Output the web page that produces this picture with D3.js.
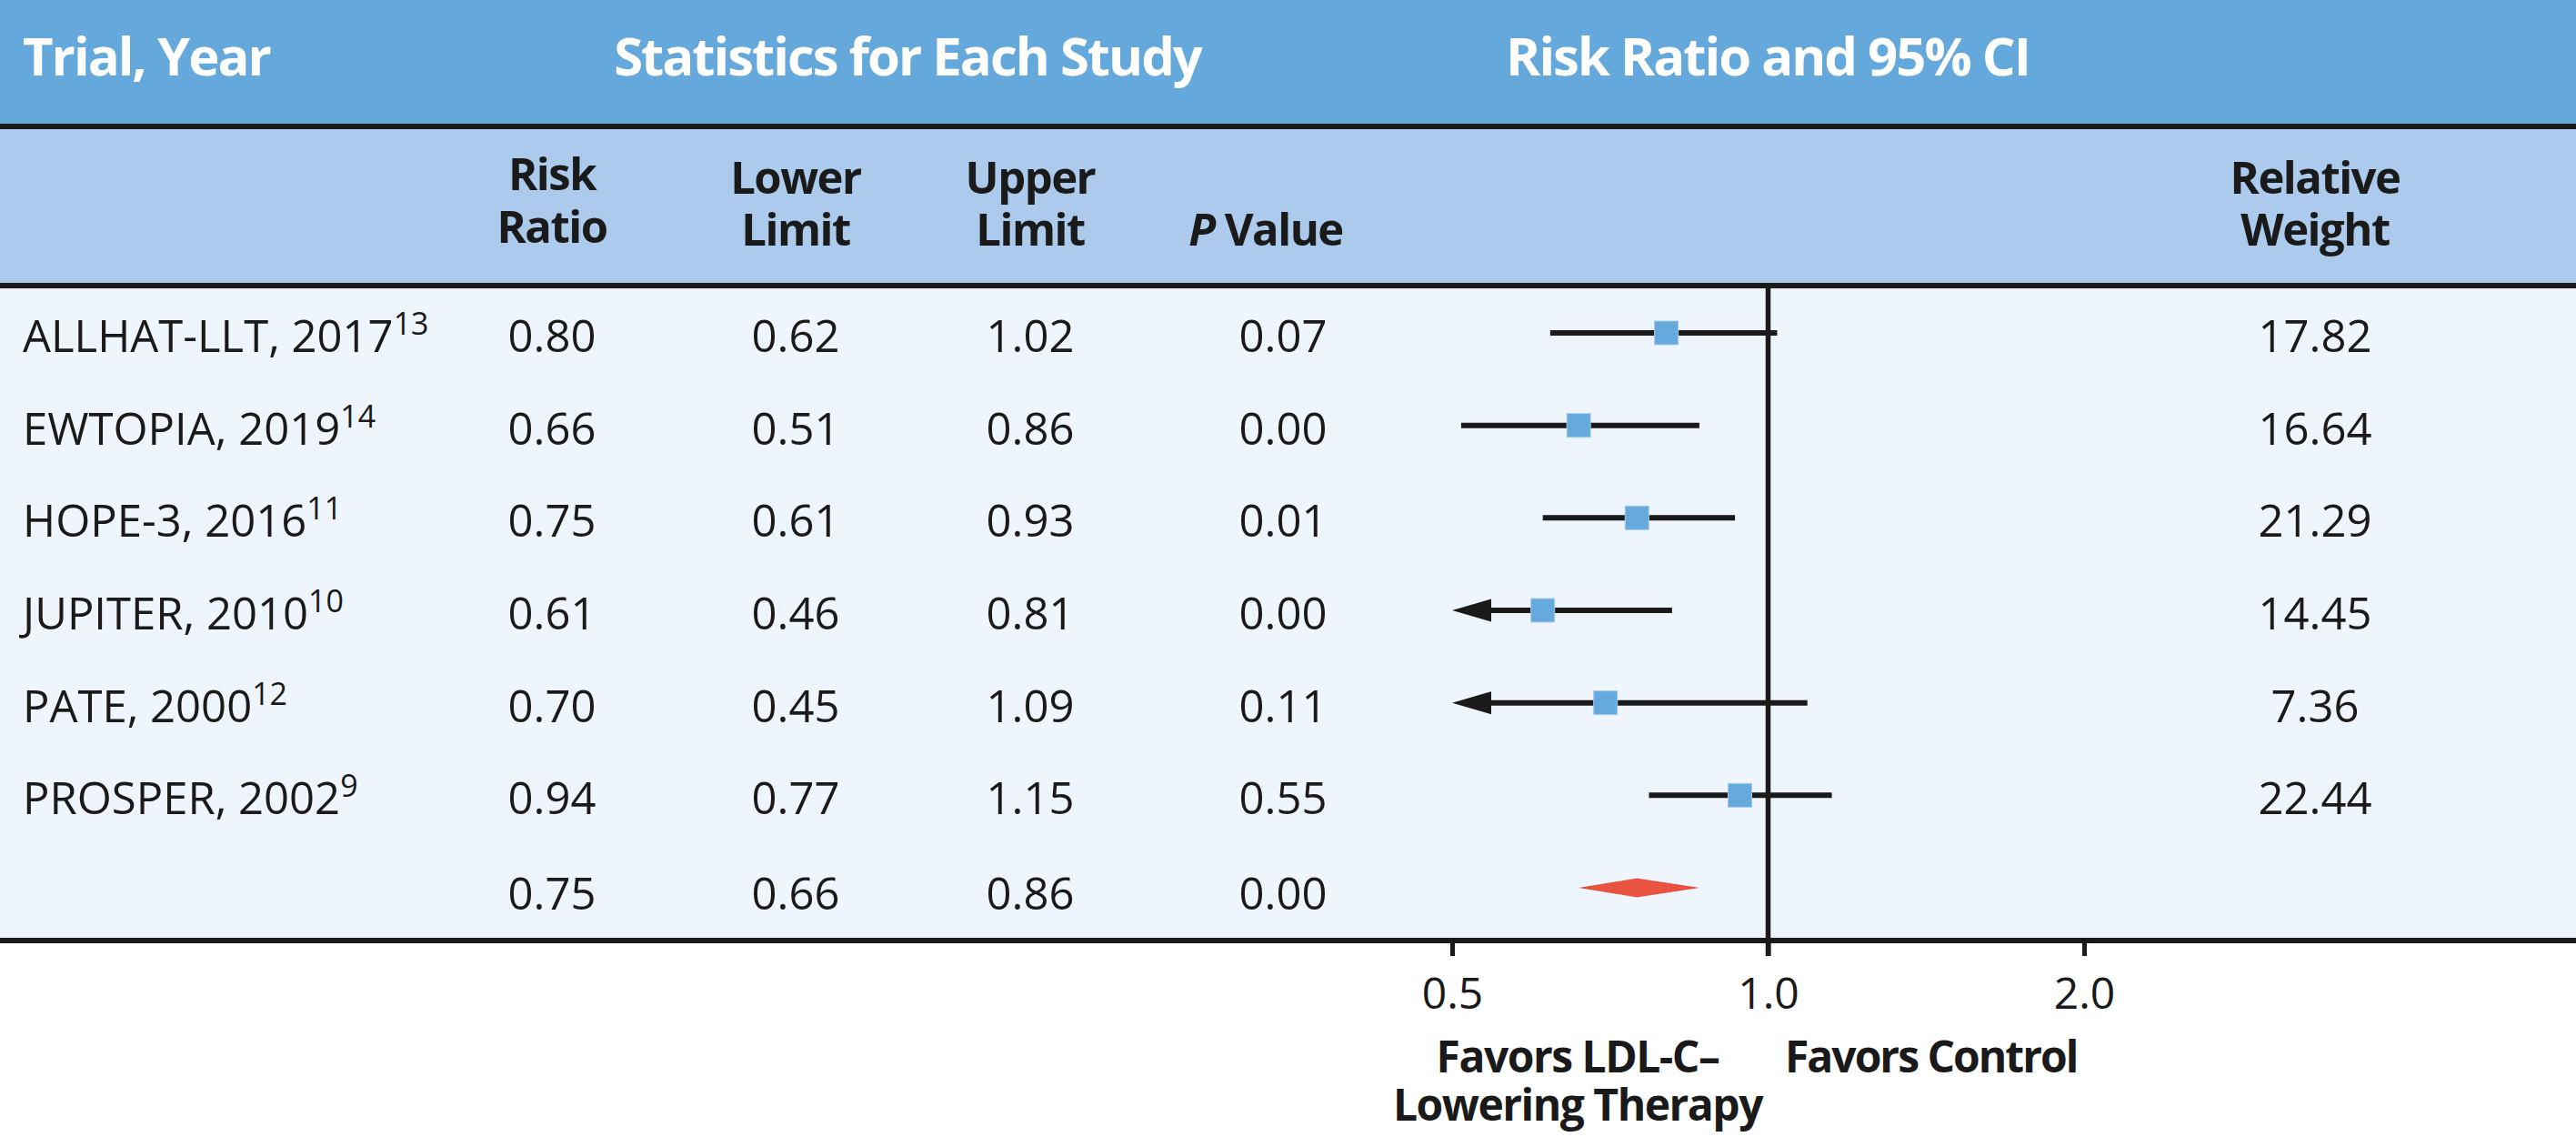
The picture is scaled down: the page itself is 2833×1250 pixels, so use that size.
<!DOCTYPE html>
<html>
<head>
<meta charset="utf-8">
<script src="https://cdn.jsdelivr.net/npm/d3@7"></script>
<style>
  body { margin: 0; background: #fff; }
  svg { display: block; font-family: "Open Sans", sans-serif; }
</style>
</head>
<body>
<svg id="chart"></svg>
<script>
// study rows
const trials = ["ALLHAT-LLT, 2017", "EWTOPIA, 2019", "HOPE-3, 2016", "JUPITER, 2010", "PATE, 2000", "PROSPER, 2002"];
const refs = ["13", "14", "11", "10", "12", "9"];
const riskRatio = [0.80, 0.66, 0.75, 0.61, 0.70, 0.94];
const lowerLimit = [0.62, 0.51, 0.61, 0.46, 0.45, 0.77];
const upperLimit = [1.02, 0.86, 0.93, 0.81, 1.09, 1.15];
const pValue = ["0.07", "0.00", "0.01", "0.00", "0.11", "0.55"];
const weights = ["17.82", "16.64", "21.29", "14.45", "7.36", "22.44"];

// pooled estimate
const pooled = { rr: 0.75, lo: 0.66, hi: 0.86, p: "0.00" };

const tickValues = [0.5, 1, 2];
const tickLabels = ["0.5", "1.0", "2.0"];

const width = 2833, height = 1250;
const dark = "#1a1a1a";

const svg = d3.select("#chart").attr("width", width).attr("height", height);

// ----- background bands -----
svg.append("rect").attr("x", 0).attr("y", 0).attr("width", width).attr("height", height).attr("fill", "#fff");
svg.append("rect").attr("x", 0).attr("y", 0).attr("width", width).attr("height", 136).attr("fill", "#65A8DB");
svg.append("rect").attr("x", 0).attr("y", 142).attr("width", width).attr("height", 169).attr("fill", "#ABCAEC");
svg.append("rect").attr("x", 0).attr("y", 317).attr("width", width).attr("height", 714).attr("fill", "#EFF5FC");
[136, 311, 1031].forEach((yy) => {
  svg.append("rect").attr("x", 0).attr("y", yy).attr("width", width).attr("height", 6).attr("fill", dark);
});

// ----- scales -----
const x = d3.scaleLog().domain([0.5, 2]).range([1597, 2292]);
const y = d3.scaleLinear().domain([0, 6]).range([366, 976]);

const cols = { rr: 607, lo: 875, hi: 1133, p: 1411, w: 2546 };

// ----- top header -----
const headG = svg.append("g").attr("fill", "#fff").attr("font-weight", 700).attr("font-size", 58).attr("letter-spacing", -2);
headG.append("text").attr("x", 25).attr("y", 83).text("Trial, Year");
headG.append("text").attr("x", 998).attr("y", 83).attr("text-anchor", "middle").text("Statistics for Each Study");
headG.append("text").attr("x", 1944).attr("y", 83).attr("text-anchor", "middle").text("Risk Ratio and 95% CI");

// ----- column headers (two lines in one text) -----
const sub = svg.append("g").attr("fill", dark).attr("font-weight", 700).attr("font-size", 49)
  .attr("letter-spacing", -1.5).attr("text-anchor", "middle");
const twoLine = (cx, l1, l2, b1, b2) => {
  const t = sub.append("text").attr("x", cx).attr("y", b1);
  t.append("tspan").attr("x", cx).attr("y", b1).text(l1);
  t.append("tspan").attr("x", cx).attr("y", b2).text(l2);
};
twoLine(cols.rr, "Risk", "Ratio", 209, 267);
twoLine(cols.lo, "Lower", "Limit", 213, 270);
twoLine(cols.hi, "Upper", "Limit", 213, 270);
twoLine(cols.w, "Relative", "Weight", 213, 270);
const pv = sub.append("text").attr("x", 1392).attr("y", 270);
pv.append("tspan").attr("font-style", "italic").text("P");
pv.append("tspan").text(" Value");

// ----- reference line at 1.0 -----
svg.append("line").attr("x1", x(1)).attr("x2", x(1)).attr("y1", 317).attr("y2", 1051)
  .attr("stroke", dark).attr("stroke-width", 5.5);

// ----- rows -----
const rows = trials.map((t, i) => ({
  name: t, ref: refs[i], rr: riskRatio[i], lo: lowerLimit[i], hi: upperLimit[i], p: pValue[i], w: weights[i], i
}));

const txt = svg.append("g").attr("fill", dark).attr("font-size", 49);

const label = txt.selectAll("text.trial").data(rows).join("text")
  .attr("class", "trial").attr("x", 25).attr("y", (d) => y(d.i) + 21);
label.append("tspan").text((d) => d.name);
label.append("tspan").attr("font-size", 34).attr("dx", 0).attr("dy", -19).text((d) => d.ref);

const numCols = [["rr", (d) => d.rr.toFixed(2)], ["lo", (d) => d.lo.toFixed(2)], ["hi", (d) => d.hi.toFixed(2)], ["p", (d) => d.p], ["w", (d) => d.w]];
numCols.forEach(([k, f]) => {
  txt.selectAll("text.c-" + k).data(rows).join("text")
    .attr("class", "c-" + k).attr("x", cols[k]).attr("y", (d) => y(d.i) + 21)
    .attr("text-anchor", "middle").text(f);
});

// pooled row values
[["rr", pooled.rr.toFixed(2)], ["lo", pooled.lo.toFixed(2)], ["hi", pooled.hi.toFixed(2)], ["p", pooled.p]].forEach(([k, v]) => {
  txt.append("text").attr("x", cols[k]).attr("y", y(6) + 24).attr("text-anchor", "middle").text(v);
});

// ----- CI lines, arrows, markers -----
const plot = svg.append("g");
const xmin = x.domain()[0];

plot.selectAll("line.ci").data(rows).join("line")
  .attr("class", "ci")
  .attr("x1", (d) => (d.lo < xmin ? x(xmin) + 20 : x(d.lo)))
  .attr("x2", (d) => x(d.hi))
  .attr("y1", (d) => y(d.i)).attr("y2", (d) => y(d.i))
  .attr("stroke", dark).attr("stroke-width", 6);

plot.selectAll("path.arrow").data(rows.filter((d) => d.lo < xmin)).join("path")
  .attr("class", "arrow")
  .attr("d", (d) => {
    const tip = x(xmin), cy = y(d.i);
    return `M${tip},${cy} L${tip + 43},${cy - 12.5} L${tip + 43},${cy + 12.5} Z`;
  })
  .attr("fill", dark);

plot.selectAll("rect.mk").data(rows).join("rect")
  .attr("class", "mk")
  .attr("x", (d) => x(d.rr) - 13).attr("y", (d) => y(d.i) - 13)
  .attr("width", 26).attr("height", 26)
  .attr("fill", "#65A9DD").attr("stroke", "#A6CCEC").attr("stroke-width", 1);

// pooled diamond
plot.append("path")
  .attr("d", `M${x(pooled.lo)},${y(6)} L${x(pooled.rr)},${y(6) - 10.5} L${x(pooled.hi)},${y(6)} L${x(pooled.rr)},${y(6) + 10.5} Z`)
  .attr("fill", "#E8533F");

// ----- x axis -----
const axis = svg.append("g").attr("transform", "translate(0,1037)")
  .call(d3.axisBottom(x).tickValues(tickValues).tickFormat((d, i) => tickLabels[i]).tickSize(14).tickPadding(24));
axis.select(".domain").remove();
axis.selectAll(".tick line").attr("stroke", dark).attr("stroke-width", 5);
axis.selectAll(".tick text").attr("fill", dark).attr("font-size", 48).attr("font-family", "Open Sans")
  .attr("dy", null).attr("y", 72);

// ----- favors labels -----
const fav = svg.append("g").attr("fill", dark).attr("font-weight", 700).attr("font-size", 48).attr("letter-spacing", -1.5);
const favL = fav.append("text").attr("x", 1735).attr("y", 1179).attr("text-anchor", "middle");
favL.append("tspan").attr("x", 1735).attr("y", 1179).text("Favors LDL-C\u2013");
favL.append("tspan").attr("x", 1735).attr("y", 1232).text("Lowering Therapy");
fav.append("text").attr("x", 1963).attr("y", 1179).attr("letter-spacing", -2).text("Favors Control");
</script>
</body>
</html>
